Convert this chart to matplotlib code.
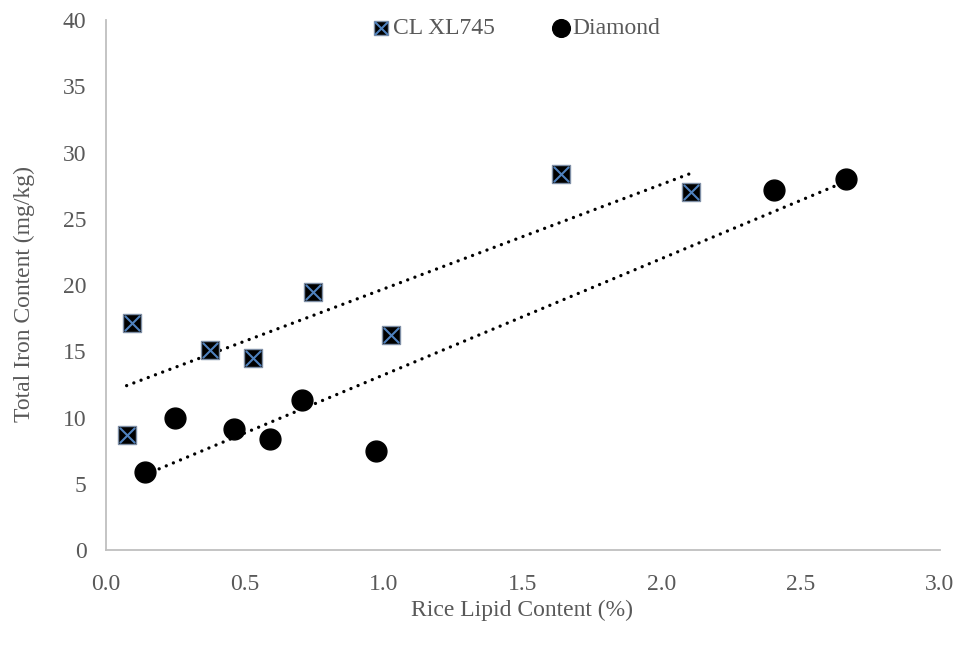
import matplotlib
matplotlib.use("Agg")
import matplotlib.pyplot as plt
import numpy as np
from matplotlib.legend_handler import HandlerTuple

plt.rcParams['font.family'] = ['Liberation Serif', 'DejaVu Serif']

# CL XL745 samples
cl_lipid = [0.074, 0.092, 0.374, 0.529, 0.744, 1.025, 1.637, 2.104]
cl_iron = [8.7, 17.1, 15.1, 14.5, 19.5, 16.2, 28.4, 27.0]

# Diamond samples
dm_lipid = [0.14, 0.248, 0.46, 0.59, 0.705, 0.97, 2.404, 2.664]
dm_iron = [5.9, 10.0, 9.1, 8.4, 11.3, 7.5, 27.2, 28.0]

xticks = [0.0, 0.5, 1.0, 1.5, 2.0, 2.5, 3.0]
yticks = [0, 5, 10, 15, 20, 25, 30, 35, 40]

fig = plt.figure(figsize=(9.58, 6.46), dpi=100)
ax = fig.add_axes([0.1107, 0.1486, 0.8703, 0.8204])

blue = '#4f81bd'
sq = ax.scatter(cl_lipid, cl_iron, marker='s', s=150, c='black',
                edgecolors='#7f8fa6', linewidths=1.0, zorder=3)
xm = ax.scatter(cl_lipid, cl_iron, marker='x', s=120, c=blue,
                linewidths=1.5, zorder=4)
ci = ax.scatter(dm_lipid, dm_iron, marker='o', s=225, c='black', zorder=3)

# linear trendlines over each series' range
for xs, ys in [(cl_lipid, cl_iron), (dm_lipid, dm_iron)]:
    k, b = np.polyfit(xs, ys, 1)
    xx = np.array([min(xs), max(xs)])
    ax.plot(xx, k * xx + b, color='black', linestyle=(0, (0.01, 2.3)),
            linewidth=2.4, dash_capstyle='round', zorder=2)

ax.set_xlim(0, 3.0)
ax.set_ylim(0, 40)
ax.set_xticks(xticks)
ax.set_xticklabels([f"{t:.1f}" for t in xticks])
ax.set_yticks(yticks)
ax.tick_params(length=0, labelsize=17, colors='#595959')
ax.tick_params(axis='x', pad=17)
ax.tick_params(axis='y', pad=14)
for s in ['top', 'right']:
    ax.spines[s].set_visible(False)
for s in ['left', 'bottom']:
    ax.spines[s].set_color('#bfbfbf')
    ax.spines[s].set_linewidth(1.3)

ax.set_xlabel('Rice Lipid Content (%)', fontsize=17, color='#595959')
ax.set_ylabel('Total Iron Content (mg/kg)', fontsize=17, color='#595959')
ax.xaxis.set_label_coords(0.499, -0.094)
ax.yaxis.set_label_coords(-0.085, 0.483)

leg = ax.legend([(sq, xm), ci], ['CL XL745', 'Diamond'],
                handler_map={tuple: HandlerTuple(ndivide=1)},
                loc='upper center', bbox_to_anchor=(0.49, 1.045), ncol=2,
                frameon=False, fontsize=17, handletextpad=0.0,
                columnspacing=2.3, handlelength=1.0, markerscale=0.85)
for t in leg.get_texts():
    t.set_color('#595959')

fig.savefig('out.png', dpi=100)
